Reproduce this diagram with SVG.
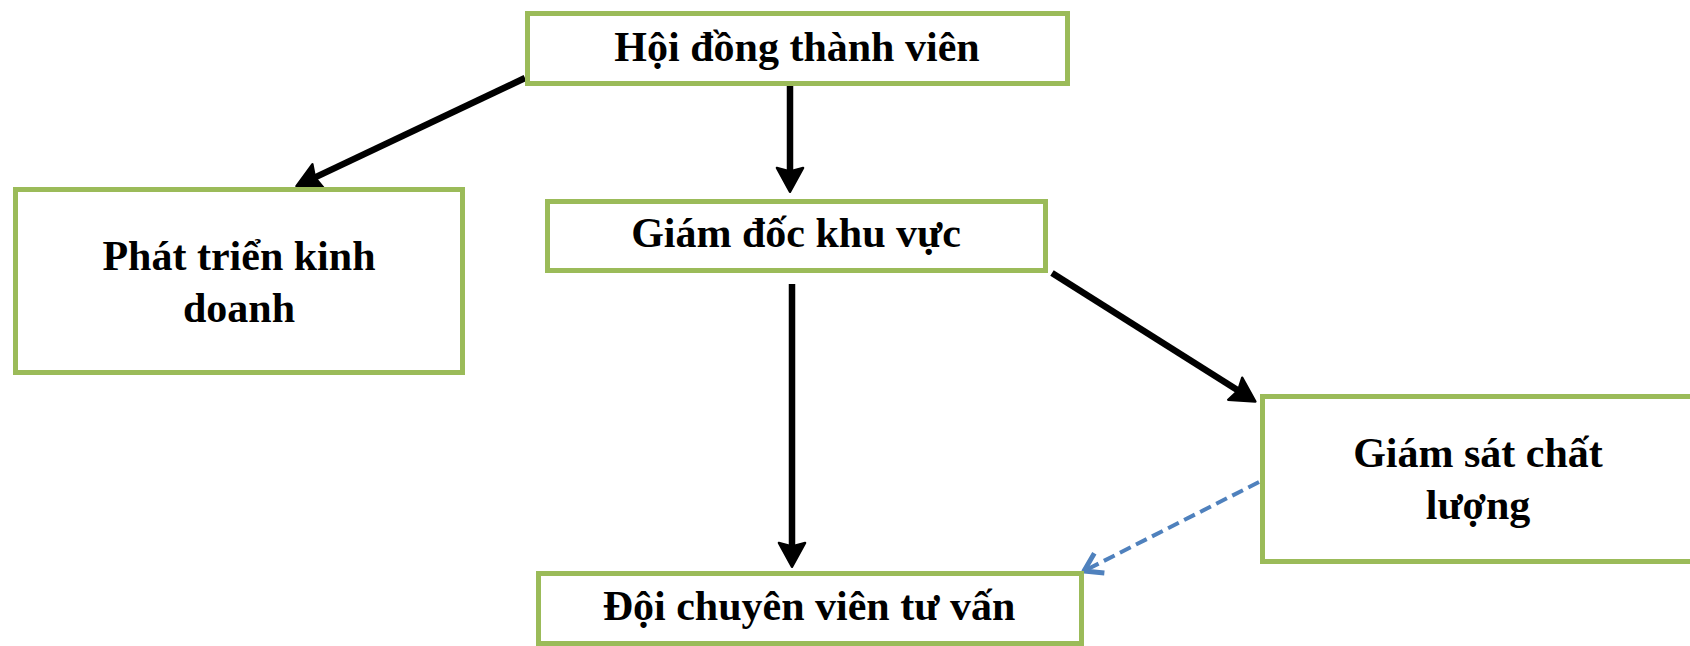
<svg xmlns="http://www.w3.org/2000/svg" width="1690" height="646" viewBox="0 0 1690 646">
<style>
.box{fill:#ffffff;stroke:#9BBB59;stroke-width:5}
.lbl{font-family:"Liberation Serif","Times New Roman",serif;font-weight:bold;font-size:42px;fill:#000;text-anchor:middle}
.solid{fill:none;stroke:#000;stroke-width:6.5}
.dash{fill:none;stroke:#4F81BD;stroke-width:4;stroke-dasharray:12 6}
</style>
<defs>
<marker id="ah" markerUnits="userSpaceOnUse" markerWidth="32" markerHeight="32" viewBox="-2 -14 26 28" refX="8" refY="0" orient="auto">
<path d="M0,-11.5 L21,0 L0,11.5 L3,0 Z" fill="#000" stroke="#000" stroke-width="2" stroke-linejoin="round"/>
</marker>
<marker id="ahb" markerUnits="userSpaceOnUse" markerWidth="32" markerHeight="32" viewBox="-2 -13 19 26" refX="14" refY="0" orient="auto">
<path d="M0,-9 L14,0 L0,9" fill="none" stroke="#4F81BD" stroke-width="4" stroke-linejoin="round"/>
</marker>
</defs>
<rect width="1690" height="646" fill="#ffffff"/>
<g id="connectors">
<path class="solid" d="M525,78 L309.8,179.9" marker-end="url(#ah)"/>
<path class="solid" d="M790,86 L790,177" marker-end="url(#ah)"/>
<path class="solid" d="M792,284 L792,552" marker-end="url(#ah)"/>
<path class="solid" d="M1052,273 L1242.9,393.6" marker-end="url(#ah)"/>
<path class="dash" d="M1259,482 L1084,571" marker-end="url(#ahb)"/>
</g>
<g id="node-hoi-dong">
<rect class="box" x="527.5" y="13.5" width="540" height="70"/>
<text class="lbl" x="797" y="61">Hội đồng thành viên</text>
</g>
<g id="node-phat-trien">
<rect class="box" x="15.5" y="189.5" width="447" height="183"/>
<text class="lbl" x="239" y="270">Phát triển kinh</text>
<text class="lbl" x="239" y="322">doanh</text>
</g>
<g id="node-giam-doc">
<rect class="box" x="547.5" y="201.5" width="498" height="69"/>
<text class="lbl" x="796" y="247">Giám đốc khu vực</text>
</g>
<g id="node-giam-sat">
<rect class="box" x="1262.5" y="396.5" width="440" height="165"/>
<text class="lbl" x="1478" y="467">Giám sát chất</text>
<text class="lbl" x="1478" y="519">lượng</text>
</g>
<g id="node-doi-chuyen-vien">
<rect class="box" x="538.5" y="573.5" width="543" height="70"/>
<text class="lbl" x="809" y="620">Đội chuyên viên tư vấn</text>
</g>
</svg>
